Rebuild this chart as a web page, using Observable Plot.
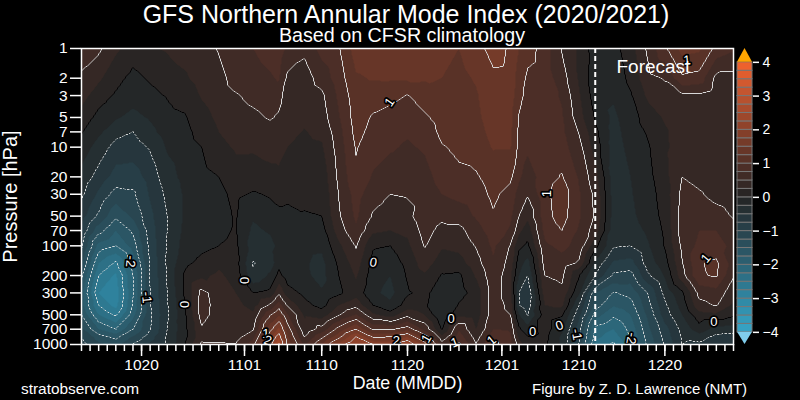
<!DOCTYPE html>
<html><head><meta charset="utf-8">
<script src="https://cdn.jsdelivr.net/npm/d3@7"></script>
<script src="https://cdn.jsdelivr.net/npm/@observablehq/plot@0.6"></script>
<style>
html,body{margin:0;background:#000;width:800px;height:400px;overflow:hidden;font-family:"Liberation Sans",sans-serif;color:#fff}
#wrap{position:relative;width:800px;height:400px}
h1{position:absolute;left:6px;width:800px;top:0;margin:0;text-align:center;font-size:25px;font-weight:400;line-height:28px}
h2{position:absolute;left:2px;width:800px;top:25px;margin:0;text-align:center;font-size:19.7px;font-weight:400;line-height:21px}
#main{position:absolute;left:0;top:47px}
#bar{position:absolute;left:733px;top:47px}
.foot{position:absolute;top:380px;font-size:15.4px;line-height:18px;white-space:nowrap}
</style></head><body><div id="wrap">
<h1>GFS Northern Annular Mode Index (2020/2021)</h1>
<h2>Based on CFSR climatology</h2>
<div id="main"></div><div id="bar"></div>
<div class="foot" style="left:21px">stratobserve.com</div>
<div class="foot" style="left:532px;font-size:15px">Figure by Z. D. Lawrence (NMT)</div>
</div>
<script>
const pressure = [1,2,3,5,7,10,20,30,50,70,100,150,200,300,400,500,700,850,1000];
const oct13 = [0.65,0.45,0.35,0.15,0.02,-0.12,-0.33,-0.45,-0.65,-0.8,-0.95,-1.2,-1.45,-1.65,-1.65,-1.5,-1.2,-1.0,-0.9];
const oct15 = [0.55,0.3,0.12,-0.08,-0.2,-0.35,-0.6,-0.8,-1.05,-1.4,-1.85,-2.25,-2.5,-2.75,-2.5,-2.25,-1.75,-1.35,-1.2];
const oct17 = [0.3,0.08,-0.03,-0.22,-0.4,-0.6,-0.85,-1.1,-1.45,-1.75,-2.0,-2.55,-2.8,-2.9,-2.85,-2.55,-2.0,-1.55,-1.35];
const oct19 = [0.12,-0.07,-0.15,-0.32,-0.5,-0.62,-0.88,-1.05,-1.2,-1.45,-1.65,-1.9,-2.0,-2.02,-1.97,-1.85,-1.5,-1.2,-0.98];
const oct21 = [0.22,0.03,-0.07,-0.22,-0.32,-0.47,-0.65,-0.72,-0.82,-0.88,-0.93,-0.97,-0.98,-1.0,-1.02,-1.04,-1.02,-0.85,-0.7];
const oct23 = [0.28,0.12,0.02,-0.08,-0.14,-0.22,-0.35,-0.44,-0.5,-0.5,-0.47,-0.46,-0.47,-0.5,-0.52,-0.54,-0.5,-0.45,-0.45];
const oct25 = [0.33,0.22,0.12,-0.03,-0.08,-0.12,-0.18,-0.22,-0.22,-0.2,-0.15,-0.05,0.03,0.03,-0.02,-0.05,-0.08,-0.08,-0.02];
const oct27 = [0.4,0.33,0.27,0.16,0.1,0.0,-0.08,-0.1,-0.12,-0.08,-0.05,0.06,0.2,0.58,0.6,0.6,0.47,0.42,0.55];
const oct29 = [0.52,0.42,0.38,0.3,0.25,0.18,0.0,-0.05,-0.07,-0.05,0.0,0.2,0.3,0.37,0.4,0.38,0.37,0.37,0.55];
const oct31 = [0.7,0.6,0.48,0.4,0.35,0.28,0.15,0.05,0.02,0.02,0.05,0.1,0.15,0.25,0.33,0.35,0.4,0.42,0.52];
const nov02 = [0.75,0.65,0.56,0.45,0.38,0.28,0.14,-0.03,-0.22,-0.3,-0.38,-0.52,-0.45,0.0,0.15,0.3,0.47,0.7,0.9];
const nov04 = [0.85,0.72,0.62,0.52,0.42,0.33,0.18,0.03,-0.13,-0.22,-0.32,-0.4,-0.2,0.08,0.55,0.98,1.42,1.7,1.95];
const nov05 = [0.9,0.78,0.58,0.47,0.4,0.33,0.2,0.06,-0.05,-0.15,-0.2,-0.08,0.08,0.45,0.88,1.22,1.82,2.2,2.55];
const nov06 = [0.7,0.45,0.38,0.34,0.3,0.25,0.12,0.04,-0.05,-0.18,-0.22,-0.2,-0.13,0.12,0.47,0.78,1.15,1.3,1.4];
const nov08 = [0.55,0.4,0.35,0.28,0.24,0.2,0.1,0.03,-0.01,-0.1,-0.18,-0.22,-0.2,-0.06,0.08,0.22,0.32,0.5,0.7];
const nov10 = [0.85,0.6,0.45,0.38,0.3,0.22,0.1,0.05,0.0,-0.1,-0.2,-0.32,-0.33,-0.22,-0.08,0.12,0.6,0.97,1.25];
const nov12 = [0.98,0.88,0.8,0.73,0.66,0.62,0.56,0.51,0.47,0.38,0.2,0.05,0.0,-0.05,0.25,0.48,1.1,1.45,1.85];
const nov14 = [1.38,1.22,1.15,1.12,1.08,1.02,0.95,0.85,0.8,0.7,0.52,0.38,0.28,0.15,0.42,0.77,1.5,2.05,2.3];
const nov16 = [1.4,1.27,1.12,0.97,0.92,0.86,0.72,0.6,0.47,0.3,0.03,-0.1,-0.15,-0.2,0.0,0.3,0.95,1.5,2.0];
const nov18 = [1.42,1.28,1.08,0.9,0.82,0.78,0.62,0.5,0.38,0.25,0.0,-0.15,-0.25,-0.32,-0.2,0.12,0.95,1.55,1.95];
const nov20 = [1.45,1.3,0.99,0.85,0.78,0.72,0.6,0.52,0.42,0.3,0.2,0.08,0.03,-0.03,0.12,0.43,1.15,1.8,2.25];
const nov22 = [1.42,1.28,1.12,0.96,0.86,0.78,0.66,0.6,0.68,0.6,0.52,0.38,0.22,0.08,0.05,0.25,0.68,1.2,1.65];
const nov24 = [1.38,1.25,1.18,1.1,1.06,0.98,0.85,0.75,0.56,0.42,0.28,0.12,-0.02,-0.18,-0.25,-0.25,-0.02,0.35,0.62];
const nov26 = [1.25,1.2,1.15,1.12,1.1,1.05,0.95,0.82,0.62,0.42,0.32,0.15,-0.05,-0.12,0.03,0.2,0.72,0.9,1.05];
const nov28 = [1.35,1.27,1.23,1.2,1.17,1.12,0.97,0.88,0.78,0.65,0.52,0.4,0.28,0.12,0.1,0.12,0.25,0.4,0.52];
const nov30 = [1.65,1.42,1.38,1.36,1.32,1.27,1.12,1.06,0.97,0.88,0.8,0.72,0.68,0.65,0.65,0.65,0.75,0.9,1.1];
const dec02 = [1.45,1.4,1.38,1.34,1.3,1.27,1.05,0.9,0.8,0.72,0.48,0.4,0.32,0.35,0.42,0.5,0.72,0.8,0.78];
const dec03 = [1.25,1.15,1.12,0.97,0.95,0.93,0.8,0.65,0.5,0.32,0.05,-0.15,-0.25,-0.5,-0.48,-0.25,0.05,0.2,0.35];
const dec04 = [1.1,0.95,0.88,0.85,0.82,0.8,0.62,0.52,0.3,0.12,-0.05,-0.35,-0.5,-0.7,-0.65,-0.52,-0.15,0.02,0.15];
const dec06 = [0.9,0.88,0.86,0.85,0.84,0.83,0.88,0.92,0.9,0.82,0.7,0.6,0.5,0.38,0.25,0.12,0.12,0.08,0.05];
const dec08 = [0.48,0.62,0.72,0.78,0.8,0.85,1.02,1.15,1.12,1.0,0.82,0.65,0.55,0.45,0.3,0.03,-0.2,-0.3,-0.3];
const dec10 = [0.2,0.22,0.28,0.35,0.48,0.58,0.72,0.78,0.78,0.72,0.66,0.45,0.02,-0.22,-0.5,-0.68,-0.9,-0.97,-1.02];
const dec12 = [-0.15,-0.2,-0.15,-0.05,0.05,0.12,0.32,0.42,0.45,0.35,0.05,-0.33,-0.55,-1.25,-1.4,-1.65,-2.1,-2.2,-2.35];
const dec14 = [-0.1,-0.18,-0.22,-0.3,-0.33,-0.36,-0.38,-0.36,-0.35,-0.4,-0.47,-0.8,-1.05,-1.52,-1.72,-1.95,-2.25,-2.4,-2.55];
const dec16 = [0.15,0.07,-0.03,-0.12,-0.15,-0.18,-0.25,-0.27,-0.3,-0.38,-0.5,-0.85,-1.1,-1.42,-1.6,-1.75,-1.92,-2.0,-2.05];
const dec18 = [0.55,0.42,0.3,0.12,0.03,-0.03,-0.08,-0.12,-0.15,-0.2,-0.28,-0.38,-0.55,-1.0,-1.1,-1.2,-1.32,-1.4,-1.45];
const dec20 = [0.95,0.52,0.4,0.28,0.22,0.2,0.17,0.12,0.08,0.04,0.02,-0.1,-0.22,-0.42,-0.55,-0.62,-0.85,-0.92,-0.97];
const dec22 = [1.35,0.95,0.45,0.38,0.35,0.38,0.5,0.57,0.62,0.62,0.55,0.48,0.4,-0.05,-0.15,-0.25,-0.42,-0.47,-0.5];
const dec24 = [1.3,0.9,0.45,0.38,0.35,0.35,0.42,0.53,0.68,0.75,0.82,0.98,0.97,0.58,0.42,0.15,-0.1,-0.4,-0.55];
const dec26 = [0.92,0.42,0.35,0.3,0.3,0.3,0.35,0.42,0.6,0.75,0.85,1.05,1.03,0.65,0.52,0.2,-0.35,-0.6,-0.7];
const dec28 = [0.8,0.42,0.32,0.27,0.26,0.26,0.3,0.36,0.48,0.58,0.68,0.62,0.52,0.35,0.2,0.05,-0.4,-0.62,-0.72];

const columnDates = ["2020-10-13","2020-10-15","2020-10-17","2020-10-19","2020-10-21","2020-10-23","2020-10-25","2020-10-27","2020-10-29","2020-10-31","2020-11-02","2020-11-04","2020-11-05","2020-11-06","2020-11-08","2020-11-10","2020-11-12","2020-11-14","2020-11-16","2020-11-18","2020-11-20","2020-11-22","2020-11-24","2020-11-26","2020-11-28","2020-11-30","2020-12-02","2020-12-03","2020-12-04","2020-12-06","2020-12-08","2020-12-10","2020-12-12","2020-12-14","2020-12-16","2020-12-18","2020-12-20","2020-12-22","2020-12-24","2020-12-26","2020-12-28"];
const columnValues = [oct13,oct15,oct17,oct19,oct21,oct23,oct25,oct27,oct29,oct31,nov02,nov04,nov05,nov06,nov08,nov10,nov12,nov14,nov16,nov18,nov20,nov22,nov24,nov26,nov28,nov30,dec02,dec03,dec04,dec06,dec08,dec10,dec12,dec14,dec16,dec18,dec20,dec22,dec24,dec26,dec28];

const pressureTicks = [1,2,3,5,7,10,20,30,50,70,100,200,300,500,700,1000];
const dateTicks = ["2020-10-20","2020-11-01","2020-11-10","2020-11-20","2020-12-01","2020-12-10","2020-12-20"];
const colorStops = ["#37a5c6","#2f87a3","#2c6274","#28424c","#232323","#523027","#8a412a","#bd5330","#f5632c"];
const lowColor = "#80cdec", highColor = "#ffa500";
const forecastDate = "2020-12-12";

const labelText = ["-2","-1","0","0","1","2","1","0","2","1","0","1","1","1","0","0","-1","-2","1","0","1"];
const labelDay  = [5.7,7.6,11.9,19.1,21.5,21.7,35.9,34,36.7,40.2,43.1,43.5,47.8,54.2,52.6,55.7,57.7,64.1,72.8,73.7,70.6];
const labelHpa  = [144,334,393,224,773,911,3.5,148,911,869,545,955,911,29.5,738,642,792,869,134,585,1.32];
const labelAngle= [95,85,90,-90,0,20,-55,10,0,-60,0,-20,-40,-90,0,-20,80,100,-50,0,-5];

const parse = d3.utcParse("%Y-%m-%d");
const fmt = d3.utcFormat("%m%d");
const start = parse("2020-10-13"), end = parse("2020-12-28");
const grid = columnDates.flatMap((d, i) => pressure.map((p, j) => ({date: parse(d), p, v: columnValues[i][j]})));
const thresholds = d3.range(-4, 4.01, 0.25);
const ramp = d3.piecewise(d3.interpolateRgb, colorStops);
const bandColors = thresholds.slice(0, -1).map(t => ramp((t + 0.125 + 4) / 8));
const color = {type: "threshold", domain: thresholds, range: [lowColor, ...bandColors, highColor]};
const labels = labelText.map((t, i) => ({t, date: d3.utcHour.offset(start, Math.round(labelDay[i] * 24)), p: labelHpa[i], a: labelAngle[i]}));

const line = (th, o) => Plot.contour(grid, {x: "date", y: "p", value: "v", thresholds: th, fill: "none", interpolate: "barycentric", pixelSize: 1, smooth: false, ...o});

const main = Plot.plot({
  width: 800, height: 353, marginTop: 1, marginBottom: 56, marginLeft: 81, marginRight: 67,
  style: {background: "transparent", color: "white", fontFamily: "Liberation Sans", fontSize: "15.5px", overflow: "visible"},
  x: {type: "utc", domain: [start, end]},
  y: {type: "log", domain: [1000, 1], axis: null},
  color,
  marks: [
    Plot.contour(grid, {x: "date", y: "p", fill: "v", thresholds: [-10, ...thresholds], interpolate: "barycentric", pixelSize: 1, smooth: false}),
    line(d3.range(-3.5, -0.4, 0.5), {stroke: "#e4e4e4", strokeWidth: 0.9, strokeDasharray: "2.5,1.5"}),
    line([0], {stroke: "#000", strokeWidth: 0.9}),
    line(d3.range(0.5, 4, 0.5), {stroke: "#d8d8d8", strokeWidth: 1}),
    Plot.ruleX([parse(forecastDate)], {stroke: "white", strokeWidth: 2, strokeDasharray: "5,3", dx: -1}),
    Plot.text(labels, {x: "date", y: "p", text: "t", rotate: "a", fill: "white", stroke: "black", strokeWidth: 3.5, fontSize: 13, paintOrder: "stroke"}),
    Plot.text(["Forecast"], {x: [d3.utcHour.offset(start, 1600)], y: [1.55], text: d => d, fill: "white", fontSize: 19}),
    Plot.frame({stroke: "white", strokeWidth: 1.5}),
    Plot.tickY(pressureTicks, {y: d => d, insetLeft: -11, insetRight: 652, stroke: "white", strokeWidth: 1.5}),
    Plot.text(pressureTicks, {y: d => d, frameAnchor: "left", dx: -14, textAnchor: "end", text: d => String(d), fill: "white", fontSize: 15.5}),
    Plot.axisX(d3.utcDay.range(start, d3.utcDay.offset(end, 1)), {anchor: "bottom", tickSize: 7, strokeWidth: 1.5, tickFormat: () => "", label: null}),
    Plot.axisX(dateTicks.map(parse), {anchor: "bottom", tickSize: 12, tickPadding: 2, strokeWidth: 1.5, tickFormat: fmt, label: null}),
    Plot.text(["Pressure [hPa]"], {frameAnchor: "left", textAnchor: "middle", dx: -71, rotate: -90, text: d => d, fill: "white", fontSize: 20}),
    Plot.text(["Date (MMDD)"], {frameAnchor: "bottom", dy: 39, lineAnchor: "middle", text: d => d, fill: "white", fontSize: 17.8})
  ]
});
document.getElementById("main").append(main);

const top_ = 4.41, bottom_ = -4.36;
const bands = thresholds.slice(0, -1).map(lo => ({lo, hi: lo + 0.25}));
const bar = Plot.plot({
  width: 67, height: 298, marginTop: 1, marginBottom: 1, marginLeft: 4, marginRight: 48,
  style: {background: "transparent", color: "white", fontFamily: "Liberation Sans", fontSize: "14px", overflow: "visible"},
  x: {domain: [0, 1], axis: null},
  y: {domain: [bottom_, top_]},
  color,
  marks: [
    Plot.rect(bands, {x1: 0, x2: 1, y1: "lo", y2: "hi", fill: "lo", stroke: "#777", strokeWidth: 1}),
    Plot.areaY([{x: 0, y: 4}, {x: 0.5, y: top_}, {x: 1, y: 4}], {x: "x", y1: 4, y2: "y", fill: highColor}),
    Plot.areaY([{x: 0, y: -4}, {x: 0.5, y: bottom_}, {x: 1, y: -4}], {x: "x", y1: -4, y2: "y", fill: lowColor}),
    Plot.axisY({ticks: d3.range(-4, 5), anchor: "right", tickSize: 6, tickPadding: 4, strokeWidth: 1.5, label: null, tickFormat: d => d < 0 ? "\u2212" + (-d) : String(d)})
  ]
});
document.getElementById("bar").append(bar);
</script></body></html>
